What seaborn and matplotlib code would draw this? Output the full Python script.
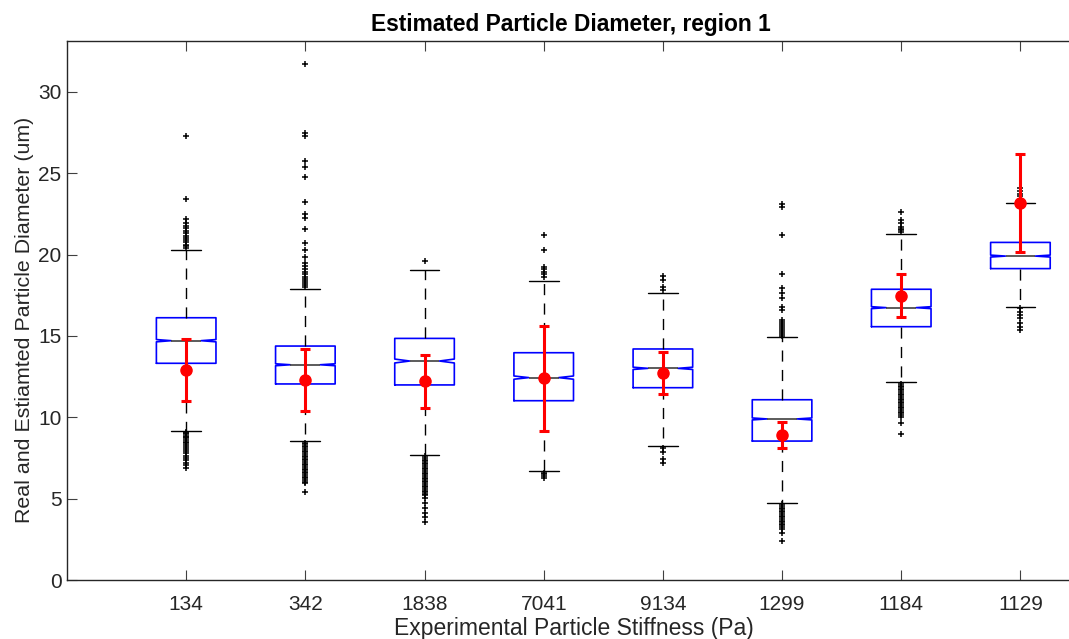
import numpy as np
import pandas as pd
import matplotlib
matplotlib.use("Agg")
import matplotlib.pyplot as plt
import seaborn as sns

# ---------------- data ----------------
categories = ["134", "342", "1838", "7041", "9134", "1299", "1184", "1129"]

q1 = [13.32, 12.05, 11.99, 11.02, 11.82, 8.54, 15.57, 19.14]
median = [14.71, 13.23, 13.46, 12.44, 13.01, 9.90, 16.74, 19.91]
q3 = [16.12, 14.38, 14.85, 13.97, 14.20, 11.08, 17.87, 20.75]
whisker_low = [9.18, 8.54, 7.68, 6.72, 8.26, 4.71, 12.15, 16.80]
whisker_high = [20.28, 17.91, 19.07, 18.40, 17.64, 14.92, 21.29, 23.15]
notch_half = [0.07, 0.06, 0.12, 0.10, 0.07, 0.06, 0.06, 0.06]

outliers = [
    [27.31, 23.42, 22.19, 21.95, 21.75, 21.62, 21.48, 21.3, 21.15, 21.0, 20.88,
     20.75, 20.62, 20.5, 20.38,
     9.1, 9.02, 8.95, 8.88, 8.8, 8.72, 8.62, 8.5, 8.4, 8.28, 8.15, 8.05, 7.92,
     7.8, 7.65, 7.5, 7.35, 7.2, 7.05, 6.88],
    [31.71, 27.45, 27.28, 25.77, 25.4, 24.79, 23.23, 22.48, 22.23, 21.55, 20.73,
     20.28, 19.83, 19.5, 19.3, 19.1, 18.95, 18.8, 18.65, 18.5, 18.38, 18.25,
     18.12, 18.0,
     8.45, 8.35, 8.25, 8.15, 8.05, 7.95, 7.85, 7.75, 7.65, 7.55, 7.45, 7.35,
     7.25, 7.15, 7.05, 6.95, 6.85, 6.75, 6.65, 6.55, 6.45, 6.35, 6.25, 6.15,
     6.05, 5.95, 5.39],
    [19.61,
     7.6, 7.5, 7.4, 7.3, 7.2, 7.1, 7.0, 6.9, 6.8, 6.7, 6.6, 6.5, 6.4, 6.3, 6.2,
     6.1, 6.0, 5.9, 5.8, 5.7, 5.6, 5.5, 5.4, 5.3, 5.2, 5.02, 4.71, 4.4, 4.1,
     3.9, 3.59],
    [21.2, 20.28, 19.26, 19.1, 18.95, 18.8, 18.6,
     6.6, 6.5, 6.38, 6.25],
    [18.68, 18.44, 18.03, 17.85,
     8.09, 7.89, 7.42, 7.18],
    [23.1, 22.95, 21.2, 18.79, 17.93, 17.62, 17.31, 16.8, 16.6, 15.98, 15.85,
     15.72, 15.6, 15.48, 15.37, 15.25, 15.12, 15.02,
     4.65, 4.55, 4.45, 4.35, 4.25, 4.15, 4.05, 3.95, 3.85, 3.75, 3.65, 3.55,
     3.45, 3.35, 3.25, 3.15, 2.87, 2.42],
    [22.6, 22.13, 21.92, 21.72, 21.6, 21.51, 21.41,
     12.05, 11.95, 11.85, 11.75, 11.65, 11.55, 11.45, 11.35, 11.25, 11.15,
     11.05, 10.95, 10.85, 10.75, 10.65, 10.55, 10.45, 10.35, 10.25, 10.15,
     10.04, 9.63, 8.95],
    [24.07, 23.9, 23.75, 23.6,
     16.7, 16.49, 16.29, 16.09, 15.78, 15.57, 15.37],
]

real_mean = [12.89, 12.29, 12.21, 12.39, 12.70, 8.91, 17.48, 23.17]
real_low = [11.00, 10.41, 10.59, 9.18, 11.41, 8.13, 16.19, 20.16]
real_high = [14.81, 14.18, 13.81, 15.61, 13.99, 9.69, 18.79, 26.16]

# ---------------- styling ----------------
sns.set_theme(style="ticks")
plt.rcParams["font.family"] = ["Liberation Sans", "DejaVu Sans"]

W, H = 1069, 639
fig = plt.figure(figsize=(W / 100, H / 100), dpi=100)
ax_left, ax_right, ax_bottom, ax_top = 67, 1080, 580, 41
ax = fig.add_axes([ax_left / W, 1 - ax_bottom / H,
                   (ax_right - ax_left) / W, (ax_bottom - ax_top) / H])

positions = np.arange(1, len(categories) + 1)

stats = []
for i, cat in enumerate(categories):
    stats.append(dict(label=cat, med=median[i], q1=q1[i], q3=q3[i],
                      whislo=whisker_low[i], whishi=whisker_high[i],
                      cilo=median[i] - notch_half[i],
                      cihi=median[i] + notch_half[i], fliers=[]))

ax.bxp(stats, positions=positions, widths=0.5, shownotches=True,
       showfliers=False, manage_ticks=False,
       boxprops=dict(color="blue", linewidth=1.2),
       whiskerprops=dict(color="black", linewidth=1.0, linestyle=(0, (8, 6))),
       capprops=dict(color="black", linewidth=1.0),
       medianprops=dict(color="#404040", linewidth=1.2))

# outliers
rows = []
for i, vals in enumerate(outliers):
    for v in vals:
        rows.append((positions[i], v))
df_out = pd.DataFrame(rows, columns=["pos", "value"])
sns.scatterplot(data=df_out, x="pos", y="value", marker="+", color="black",
                s=24, linewidth=1.1, ax=ax, zorder=3, legend=False)

# real particle diameters (mean with error bar)
rm = np.array(real_mean)
yerr = np.vstack([rm - np.array(real_low), np.array(real_high) - rm])
ax.errorbar(positions, rm, yerr=yerr, fmt="o", color="red", ecolor="red",
            markersize=8, elinewidth=2.2, capsize=3.5, capthick=2.2, zorder=5)

# axes
ax.set_xlim(0, 8.5)
ax.set_ylim(0, 33.13)
ax.set_xticks(positions)
ax.set_xticklabels(categories)
ax.set_yticks([0, 5, 10, 15, 20, 25, 30])
ax.tick_params(axis="both", which="both", direction="in", length=7,
               width=0.8, color="#404040", labelsize=15, labelcolor="#262626",
               top=True, right=False)
ax.tick_params(axis="x", pad=11)
ax.tick_params(axis="y", pad=4)
for name, sp in ax.spines.items():
    sp.set_visible(name != "right")
    sp.set_color("#262626")
    sp.set_linewidth(1.0)

ax.set_xlabel("Experimental Particle Stiffness (Pa)", fontsize=16.5,
              color="#262626", labelpad=2)
ax.set_ylabel("Real and Estiamted Particle Diameter (um)", fontsize=15.4,
              color="#262626", labelpad=3)
ax.yaxis.label.set_y(0.483)
fig.text(571 / W, 1 - 24 / H, "Estimated Particle Diameter, region 1",
         ha="center", va="center", fontsize=16.4, fontweight="bold",
         color="black")

fig.savefig("out.png", dpi=100)
